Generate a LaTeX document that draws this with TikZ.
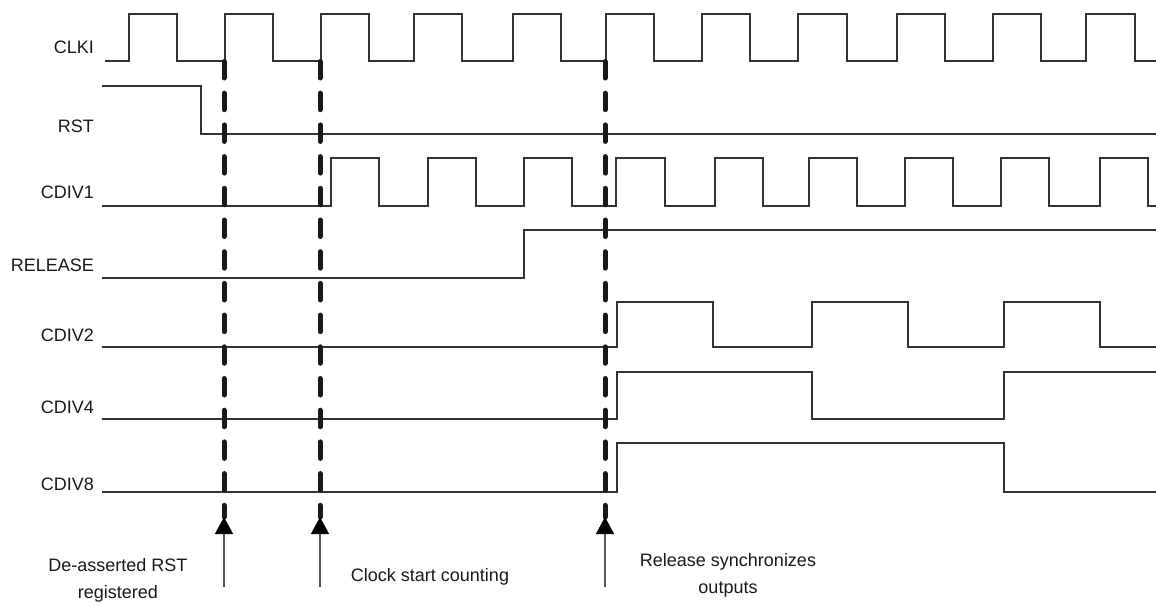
\documentclass[tikz,border=0pt]{standalone}
\usepackage{fontspec}
\setmainfont{Liberation Sans}
\usetikzlibrary{arrows.meta}
\begin{document}
\begin{tikzpicture}[x=1pt,y=-1pt,
  wave/.style={draw=black!80,line width=1.2pt,line join=miter},
  siglabel/.style={anchor=base east,inner sep=0pt,text=black!90,font=\fontsize{18}{22}\selectfont},
  note/.style={align=center,inner sep=0pt,text=black!90,font=\fontsize{18}{27}\selectfont},
  syncline/.style={draw=black!90,line width=5pt,line cap=round,dash pattern=on 16.5pt off 15.2pt},
  pointer/.style={draw=black!65,line width=1.3pt,-{Triangle[length=17pt,width=18pt,fill=black,color=black]}}]
\useasboundingbox (0,0) rectangle (1156,602);
% signal names
\node[siglabel] (lclki) at (94,54) {CLKI};
\node[siglabel] (lrst) at (94,132) {RST};
\node[siglabel] (lcdiv1) at (94,198) {CDIV1};
\node[siglabel] (lrel) at (94,271) {RELEASE};
\node[siglabel] (lcdiv2) at (94,341) {CDIV2};
\node[siglabel] (lcdiv4) at (94,413) {CDIV4};
\node[siglabel] (lcdiv8) at (94,490) {CDIV8};
% waveforms
\draw[wave] (105,61) \foreach \r/\f in {129/177,225/273,321/369,414/462,513/561,606/654,702/750,798/847,897/945,993/1041,1086/1135} { -- (\r,61) -- (\r,14) -- (\f,14) -- (\f,61) } -- (1156,61);
\draw[wave] (102,86) -- (201,86) -- (201,134) -- (1156,134);
\draw[wave] (102,206) \foreach \r/\f in {331/379,428/476,524/572,616/665,715/763,809/857,905/953,1001/1049,1100/1148} { -- (\r,206) -- (\r,158) -- (\f,158) -- (\f,206) } -- (1156,206);
\draw[wave] (102,278) -- (524,278) -- (524,230) -- (1156,230);
\draw[wave] (102,347) \foreach \r/\f in {617/713,812/908,1004/1100} { -- (\r,347) -- (\r,302) -- (\f,302) -- (\f,347) } -- (1156,347);
\draw[wave] (102,419) -- (617,419) -- (617,372) -- (812,372) -- (812,419) -- (1004,419) -- (1004,372) -- (1156,372);
\draw[wave] (102,492) -- (617,492) -- (617,443) -- (1004,443) -- (1004,492) -- (1156,492);
% sync lines and arrows
\foreach \n/\x in {1/224,2/320,3/605} {
  \coordinate (top\n) at (\x,61.5);
  \coordinate (tip\n) at (\x,517);
  \coordinate (foot\n) at (\x,587);
  \draw[syncline] (top\n) -- (tip\n);
  \draw[pointer] (foot\n) -- (tip\n);
}
% notes
\node[note] (n1) at (118,580) {De-asserted RST\\registered};
\node[note] (n2) at (430,577) {Clock start counting};
\node[note] (n3) at (728,575) {Release synchronizes\\outputs};
\end{tikzpicture}
\end{document}
